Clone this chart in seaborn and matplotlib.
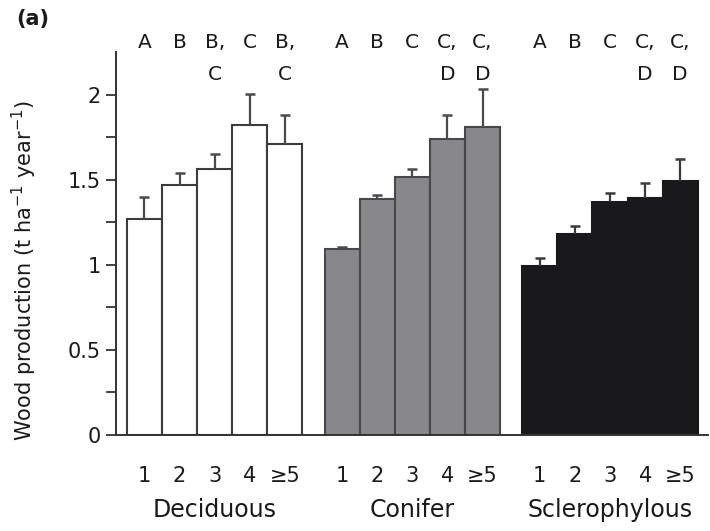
import matplotlib
matplotlib.use("Agg")
import matplotlib.pyplot as plt
import matplotlib.transforms as mtransforms
import seaborn as sns
import pandas as pd
import numpy as np

# ---- data ----
groups = ["Deciduous", "Conifer", "Sclerophylous"]
levels = ["1", "2", "3", "4", "\u22655"]
deciduous_mean = [1.27, 1.47, 1.565, 1.82, 1.71]
deciduous_err = [0.13, 0.07, 0.085, 0.185, 0.17]
conifer_mean = [1.09, 1.385, 1.515, 1.74, 1.81]
conifer_err = [0.015, 0.025, 0.05, 0.14, 0.22]
sclero_mean = [0.99, 1.18, 1.37, 1.39, 1.495]
sclero_err = [0.05, 0.045, 0.05, 0.09, 0.125]
deciduous_letters = ["A", "B", "B,\nC", "C", "B,\nC"]
conifer_letters = ["A", "B", "C", "C,\nD", "C,\nD"]
sclero_letters = ["A", "B", "C", "C,\nD", "C,\nD"]

means = [deciduous_mean, conifer_mean, sclero_mean]
errs = [deciduous_err, conifer_err, sclero_err]
letters = [deciduous_letters, conifer_letters, sclero_letters]

group_step = 5.63
rows = []
for g, name in enumerate(groups):
    for i, lev in enumerate(levels):
        rows.append({"group": name, "level": lev,
                     "pos": g * group_step + i + 0.5,
                     "mean": means[g][i], "err": errs[g][i],
                     "letter": letters[g][i]})
df = pd.DataFrame(rows)

fill = {"Deciduous": "#ffffff", "Conifer": "#88878c", "Sclerophylous": "#19191b"}
edge = {"Deciduous": "#3c3c3c", "Conifer": "#48474b", "Sclerophylous": "#19191b"}
ecol = {"Deciduous": "#4a4a4a", "Conifer": "#4a4a4e", "Sclerophylous": "#3a3a3c"}

sns.set_style("ticks")
plt.rcParams["font.family"] = ["DejaVu Sans"]
plt.rcParams["mathtext.default"] = "regular"

fig = plt.figure(figsize=(7.1, 5.31), dpi=100)
ax = fig.add_axes([116 / 710, 96 / 531, 592 / 710, 383 / 531])

sns.barplot(data=df, x="pos", y="mean", hue="group", palette=fill,
            native_scale=True, dodge=False, width=1.0, errorbar=None,
            legend=False, ax=ax, linewidth=1.5)

for patch, (_, r) in zip(ax.patches, df.iterrows()):
    patch.set_edgecolor(edge[r["group"]])

for name in groups:
    sub = df[df["group"] == name]
    eb = ax.errorbar(sub["pos"], sub["mean"],
                     yerr=[np.zeros(len(sub)), sub["err"]],
                     fmt="none", ecolor=ecol[name], elinewidth=1.6,
                     capsize=3.6, capthick=1.8)
    # keep only the upper cap
    caplines = eb[1]
    if len(caplines) == 2:
        caplines[0].set_visible(False)

# significance letters
row_y = [2.305, 2.12]
for _, r in df.iterrows():
    for k, line in enumerate(r["letter"].split("\n")):
        ax.text(r["pos"], row_y[k], line, ha="center", va="center",
                fontsize=14.5, color="#1a1a1a", clip_on=False)

ax.set_xlim(-0.31, 16.55)
ax.set_ylim(0, 2.25)
ax.set_yticks([0, 0.5, 1, 1.5, 2])
ax.set_yticklabels(["0", "0.5", "1", "1.5", "2"])
ax.set_yticks([0.25, 0.75, 1.25, 1.75], minor=True)
ax.tick_params(axis="y", which="both", length=7, width=1.3, colors="#333333",
               labelsize=15, pad=4, labelcolor="#1a1a1a")

ax.set_xticks(df["pos"])
ax.set_xticklabels(df["level"])
ax.tick_params(axis="x", which="major", length=0, labelsize=15, pad=22,
               labelcolor="#1a1a1a")
centers = [g * group_step + 2.5 for g in range(3)]
ax.set_xticks(centers, minor=True)
ax.tick_params(axis="x", which="minor", length=3, width=1.3, colors="#333333")

trans = mtransforms.blended_transform_factory(ax.transData, ax.transAxes)
for c, name in zip(centers, groups):
    ax.text(c, -75 / 383, name, transform=trans, ha="center", va="center",
            fontsize=17, color="#1a1a1a")

ax.set_xlabel("")
ax.set_ylabel("Wood production (t ha$^{-1}$ year$^{-1}$)", fontsize=15,
              color="#1a1a1a")
ax.yaxis.set_label_coords(-77 / 592, 0.43)

sns.despine(ax=ax)
for s in ["left", "bottom"]:
    ax.spines[s].set_linewidth(1.4)
    ax.spines[s].set_color("#333333")

fig.text(33 / 710, 1 - 19 / 531, "(a)", fontsize=15, fontweight="bold",
         ha="center", va="center", color="#1a1a1a")

fig.savefig("out.png", dpi=100)
